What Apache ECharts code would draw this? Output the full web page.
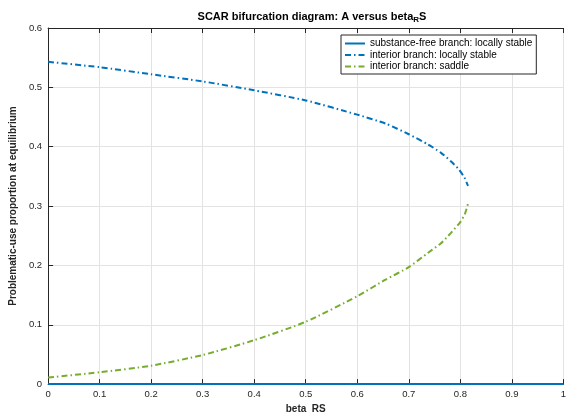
<!DOCTYPE html>
<html>
<head>
<meta charset="utf-8">
<script src="https://cdn.jsdelivr.net/npm/echarts@6/dist/echarts.min.js"></script>
<style>html,body{margin:0;padding:0;background:#fff}#c{width:569px;height:419px}</style>
</head>
<body>
<div id="c"></div>
<script>
const xTicks = [0, 0.1, 0.2, 0.3, 0.4, 0.5, 0.6, 0.7, 0.8, 0.9, 1];
const yTicks = [0, 0.1, 0.2, 0.3, 0.4, 0.5, 0.6];

const betaFree = [0, 1];
const aFree = [0, 0];

const betaStable = [0, 0.1, 0.2, 0.3, 0.4, 0.5, 0.6, 0.655, 0.7, 0.737, 0.762, 0.781, 0.797, 0.808, 0.815];
const aStable = [0.543, 0.534, 0.522, 0.510, 0.495, 0.478, 0.454, 0.439, 0.421, 0.404, 0.390, 0.376, 0.362, 0.348, 0.334];

const betaSaddle = [0, 0.1, 0.2, 0.3, 0.4, 0.5, 0.6, 0.655, 0.7, 0.737, 0.762, 0.781, 0.800, 0.809, 0.815];
const aSaddle = [0.011, 0.020, 0.031, 0.049, 0.074, 0.105, 0.148, 0.176, 0.197, 0.221, 0.237, 0.254, 0.273, 0.287, 0.304];

const seriesNames = [
  'substance-free branch: locally stable',
  'interior branch: locally stable',
  'interior branch: saddle'
];

const pair = (xs, ys) => xs.map((x, i) => [x, ys[i]]);
const font = 'Liberation Sans, Arial, Helvetica, sans-serif';
const dashdot = [6, 3, 1.5, 3];

const chart = echarts.init(document.getElementById('c'));
chart.setOption({
  animation: false,
  backgroundColor: '#fff',
  title: {
    text: 'SCAR bifurcation diagram: A versus beta{sub|R}S',
    left: 307, top: 5, textAlign: 'center',
    textStyle: {
      fontFamily: font, fontSize: 11, fontWeight: 'bold', color: '#000',
      rich: { sub: { fontFamily: font, fontSize: 8, fontWeight: 'bold', color: '#000', verticalAlign: 'bottom', padding: [6, 0, 0, 0] } }
    }
  },
  grid: { left: 45, right: 0, top: 28, bottom: 29.5, containLabel: false },
  legend: {
    orient: 'vertical', left: 341, top: 35,
    itemWidth: 20, itemHeight: 8, itemGap: 0.5,
    padding: [3, 4, 2, 3],
    borderColor: '#262626', borderWidth: 1, borderRadius: 0, backgroundColor: '#fff',
    itemStyle: { opacity: 0 },
    textStyle: { fontFamily: font, fontSize: 10, color: '#000', lineHeight: 11 },
    data: seriesNames
  },
  xAxis: [{
    type: 'value', min: 0, max: 1, interval: 0.1,
    name: 'beta  RS', nameLocation: 'middle', nameGap: 17,
    nameTextStyle: { fontFamily: font, fontSize: 10, color: '#262626', fontWeight: 'bold' },
    axisLine: { lineStyle: { color: '#262626', width: 1 } },
    axisTick: { inside: true, length: 5, lineStyle: { color: '#262626' } },
    axisLabel: { fontFamily: font, fontSize: 9.5, color: '#262626', margin: 5,
      formatter: v => String(+v.toFixed(1)) },
    splitLine: { show: true, lineStyle: { color: '#e3e3e3', width: 1 } }
  }, {
    type: 'value', min: 0, max: 1, interval: 0.1, position: 'top',
    axisLine: { lineStyle: { color: '#262626', width: 1 } },
    axisTick: { inside: true, length: 5, lineStyle: { color: '#262626' } },
    axisLabel: { show: false }, splitLine: { show: false }
  }],
  yAxis: {
    type: 'value', min: 0, max: 0.6, interval: 0.1,
    name: 'Problematic-use proportion at equilibrium', nameLocation: 'middle', nameGap: 27,
    nameTextStyle: { fontFamily: font, fontSize: 10, color: '#262626', fontWeight: 'bold' },
    axisLine: { show: true, lineStyle: { color: '#262626', width: 1 } },
    axisTick: { show: true, inside: true, length: 5, lineStyle: { color: '#262626' } },
    axisLabel: { fontFamily: font, fontSize: 9.5, color: '#262626', margin: 6,
      formatter: v => String(+v.toFixed(1)) },
    splitLine: { show: true, lineStyle: { color: '#e3e3e3', width: 1 } }
  },
  series: [
    { name: seriesNames[0], type: 'line', data: pair(betaFree, aFree), symbol: 'none',
      lineStyle: { color: '#0072BD', width: 2, type: 'solid' }, itemStyle: { color: '#0072BD' } },
    { name: seriesNames[1], type: 'line', data: pair(betaStable, aStable), symbol: 'none', smooth: 0.2,
      lineStyle: { color: '#0072BD', width: 2, type: dashdot }, itemStyle: { color: '#0072BD' } },
    { name: seriesNames[2], type: 'line', data: pair(betaSaddle, aSaddle), symbol: 'none', smooth: 0.2,
      lineStyle: { color: '#77AC30', width: 2, type: dashdot }, itemStyle: { color: '#77AC30' } }
  ]
});
</script>
</body>
</html>
